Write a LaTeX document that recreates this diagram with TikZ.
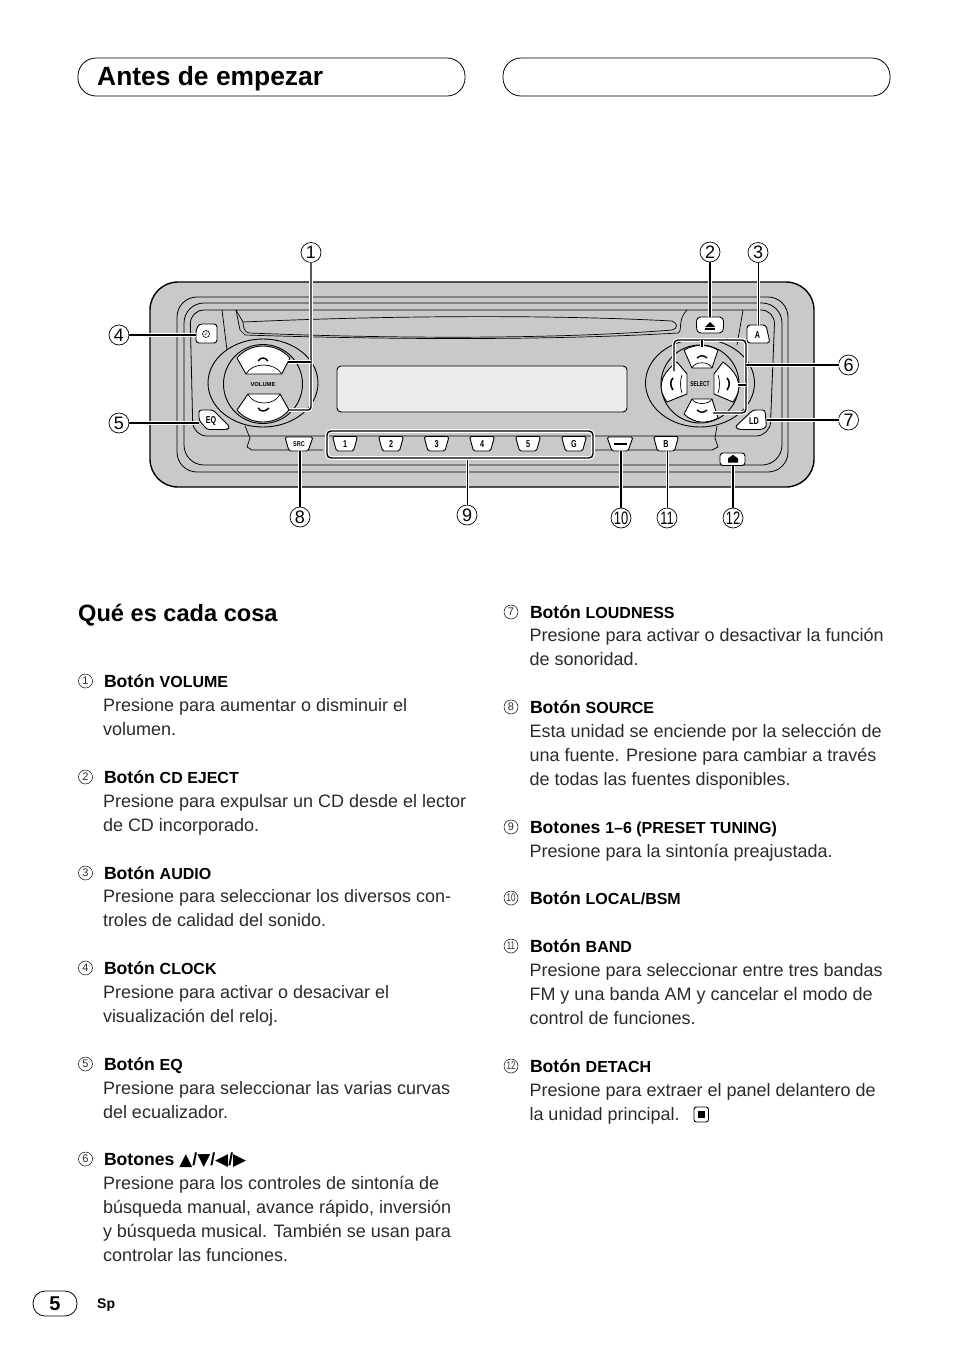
\documentclass[tikz,border=0pt]{standalone}
\usepackage{fontspec}
\setmainfont{Liberation Sans}
\newfontfamily\dejavu{DejaVu Sans}
\newcommand{\fsz}[1]{\fontsize{#1}{#1}\selectfont}
\newcounter{tn}
\definecolor{panelgray}{HTML}{C9C9C9}
\definecolor{dispgray}{HTML}{ECECEC}
\definecolor{bodyink}{HTML}{2A2A2A}
\tikzset{
 txt/.style={anchor=base west,inner sep=0pt,outer sep=0pt,text=bodyink,font=\fsz{18}},
 hd/.style={anchor=base west,inner sep=0pt,outer sep=0pt,text=black,font=\fsz{17.6}\bfseries},
 bignum/.style={circle,draw,line width=.7pt,minimum size=20pt,inner sep=0pt,outer sep=0pt,font=\fsz{18}},
 smallnum/.style={circle,draw,line width=.5pt,minimum size=14pt,inner sep=0pt,outer sep=0pt,font=\fsz{11},text=bodyink},
 leader/.style={black,line width=1.4pt,preaction={draw=white,line width=3.6pt}},
 thinleader/.style={black,line width=1pt,preaction={draw=white,line width=3pt}},
 ring/.style={line width=.8pt,rounded corners=20pt},
 fine/.style={line width=.7pt},
 btn/.style={fill=white,draw=black,line width=.9pt,rounded corners=1.6pt},
 pad/.style={fill=white,draw=black,line width=.9pt,line join=round},
 lbl/.style={inner sep=0pt,outer sep=0pt,font=\fsz{10}\bfseries},
 tiny/.style={inner sep=0pt,outer sep=0pt,font=\fsz{5.8}\bfseries},
 pill/.style={draw,line width=.8pt},
}
\newcommand{\tl}[3]{\stepcounter{tn}\node[txt] (t\arabic{tn}) at (#1,#2) {#3};}
\newcommand{\hl}[4]{\stepcounter{tn}\node[hd] (t\arabic{tn}) at (#1,#2) {#3 {\fsz{16}#4}};}
\newcommand{\nm}[3]{\stepcounter{tn}\node[smallnum] (t\arabic{tn}) at (#1,#2) {#3};}
\newcommand{\narrow}[1]{\scalebox{.72}[1]{#1}}
\newcommand{\presetbtn}[3]{% name, x, label
 \draw[btn] (#2-12.5,436.5) -- (#2+12.5,436.5) -- (#2+8.5,451) -- (#2-8.5,451) -- cycle;
 \node[lbl] (#1) at (#2,444) {\narrow{#3}};}
\begin{document}
\begin{tikzpicture}[x=1pt,y=-1pt]
\useasboundingbox (0,0) rectangle (954,1355);
% header pills
\draw[pill,rounded corners=18pt] (78,58) rectangle (465,96);
\draw[pill,rounded corners=18pt] (503,58) rectangle (890,96);
\node[anchor=base west,inner sep=0pt,font=\fsz{26.4}\bfseries] (title) at (97,85) {Antes de empezar};
% panel
\draw[fill=panelgray,line width=1.4pt,rounded corners=28pt] (150,282) rectangle (814,487);
% rings
\draw[ring] (177,297) rectangle (788,472);
\draw[ring] (184,303) rectangle (782,465);
\draw[ring,rounded corners=14pt] (190,310) -- (193,436) -- (770,436) -- (775,310) -- cycle;
% slot
\draw[fine] (222,310) -- (227,350);
\draw[fine,fill=panelgray] (236,310) -- (243,322) .. controls (400,315) and (560,315) .. (672,321) .. controls (678,323) and (678,329) .. (672,330) .. controls (560,339) and (400,339) .. (249,333) .. controls (244,333) and (243,325) .. (243,322);
\draw[fine] (236,310) -- (240,330) -- (245,335) .. controls (400,340) and (560,340) .. (678,333) .. controls (683,331) and (677,320) .. (687,310);
\draw[fine] (743,310) -- (737,345);
% lower band
\draw[fine] (245,426) -- (250,438) -- (247,447) -- (252,450) -- (323,450);
\draw[fine] (593,450) -- (712,450) -- (718,447) -- (715,438) -- (717,426);
% display
\draw[fill=dispgray,line width=.9pt,rounded corners=4pt] (337,366) rectangle (627,412);
% left knob
\draw[fill=panelgray,line width=.9pt] (263,383) ellipse [x radius=55,y radius=44];
\draw[fill=panelgray,line width=.9pt] (263,384) circle [radius=39.5];
\draw[pad] (237,358) .. controls (250,342) and (276,342) .. (290,358) -- (281.7,374) -- (246,374) -- cycle;
\draw[fine] (246,374) .. controls (252,362) and (275,362) .. (281.7,374);
\draw[line width=1.4pt] (258,361) .. controls (261,357) and (265,357) .. (268,361);
\draw[pad] (248,394) -- (280,394) -- (289,410) .. controls (276,426) and (250,426) .. (237,410) -- cycle;
\draw[fine] (248,394) .. controls (253,406) and (275,406) .. (280,394);
\draw[line width=1.4pt] (258,408) .. controls (261,412) and (265,412) .. (269,408);
\node[tiny] (vol) at (263,384.5) {VOLUME};
% right knob
\draw[fill=panelgray,line width=.9pt] (700,383) ellipse [x radius=54.5,y radius=44];
\draw[fill=panelgray,line width=.9pt] (700,384) circle [radius=39];
\draw[pad] (684,350) .. controls (694,344) and (708,344) .. (718,350) -- (712,368) -- (692,368) -- cycle;
\draw[fine] (692,368) .. controls (695,361) and (709,361) .. (712,368);
\draw[line width=1.4pt] (697,358) .. controls (700,355) and (704,355) .. (707,358);
\draw[pad] (692,399) -- (712,399) -- (718,418) .. controls (708,424) and (694,424) .. (684,414) -- cycle;
\draw[fine] (692,399) .. controls (695,405) and (709,405) .. (712,399);
\draw[line width=1.4pt] (697,410) .. controls (700,413) and (704,413) .. (707,410);
\draw[pad] (677,362) -- (687,374) -- (687,394) -- (667,402) .. controls (658,390) and (658,376) .. (677,362) -- cycle;
\draw[fine] (682,375) .. controls (680,380) and (680,388) .. (682,393);
\draw[line width=1.6pt] (673,378) .. controls (670,381) and (670,386) .. (673,390);
\draw[pad] (723,362) -- (714,374) -- (714,394) -- (733,402) .. controls (742,390) and (742,376) .. (723,362) -- cycle;
\draw[fine] (718,375) .. controls (720,380) and (720,388) .. (718,393);
\draw[line width=1.6pt] (727,378) .. controls (730,381) and (730,386) .. (727,390);
\node[tiny] (sel) at (700,384.5) {\scalebox{.85}[1.2]{SELECT}};
% side buttons
\draw[btn,rounded corners=3pt] (199,324) -- (217,324) -- (217,343) -- (196,343) -- (196,330) -- cycle;
\node[circle,draw,line width=.6pt,minimum size=7pt,inner sep=0pt] (clock) at (206,334) {};
\draw[line width=.5pt] (clock.center) -- (206,331.5) (clock.center) -- (204.5,335);
\draw[btn,rounded corners=2.5pt] (199,410) -- (213,410) -- (230,427) -- (227,429.5) -- (207,429.5) -- (199,420) -- cycle;
\node[lbl] (eq) at (211,421) {\narrow{EQ}};
\draw[btn] (696.5,324) .. controls (696.5,319) and (698,317) .. (702,317) -- (718,317) .. controls (722,317) and (723.5,319) .. (723.5,324) .. controls (723.5,331) and (722,333) .. (718,333) -- (702,333) .. controls (698,333) and (696.5,331) .. (696.5,324) -- cycle;
\fill (705,327) -- (715,327) -- (710,322) -- cycle;
\fill (705,328.2) rectangle (715,329.6);
\node[inner sep=0pt,outer sep=0pt] (ejectbtn) at (710,325) {};
\draw[btn,rounded corners=3pt] (747,325) -- (766,325) -- (770,343) -- (747,343) -- cycle;
\node[lbl] (abtn) at (757.5,335) {\narrow{A}};
\draw[btn,rounded corners=2.5pt] (753,410) -- (765,410) -- (766.5,427) -- (762,429.5) -- (739,429.5) -- (735,427) -- cycle;
\node[lbl] (ld) at (754,421) {\narrow{LD}};
% bottom buttons
\draw[btn] (285,437) -- (313,437) -- (308,451) -- (289,451) -- cycle;
\node[tiny] (src) at (299,444.5) {\scalebox{.95}[1.2]{SRC}};
\presetbtn{b1}{345}{1}
\presetbtn{b2}{391}{2}
\presetbtn{b3}{436.5}{3}
\presetbtn{b4}{482}{4}
\presetbtn{b5}{528}{5}
\presetbtn{b6}{574}{G}
\draw[btn] (607,437) -- (633,437) -- (628,451) -- (612,451) -- cycle;
\fill (613.5,442.5) rectangle (627,445);
\node[inner sep=0pt,outer sep=0pt] (localbtn) at (620,444) {};
\presetbtn{bandbtn}{666}{B}
\draw[btn,rounded corners=3pt] (720,453) rectangle (745,465.5);
\fill (728,462.5) -- (728,458.5) -- (733,454.8) -- (738,458.5) -- (738,462.5) -- cycle;
\node[inner sep=0pt,outer sep=0pt] (detach) at (733,459) {};
% callout numbers
\node[bignum] (n1) at (311,252.5) {1};
\node[bignum] (n2) at (710,252) {2};
\node[bignum] (n3) at (758,252.5) {3};
\node[bignum] (n4) at (119,335) {4};
\node[bignum] (n5) at (119,423) {5};
\node[bignum] (n6) at (848.5,365) {6};
\node[bignum] (n7) at (848.5,420) {7};
\node[bignum] (n8) at (300,517) {8};
\node[bignum] (n9) at (467,515) {9};
\node[bignum] (n10) at (621,518) {\narrow{10}};
\node[bignum] (n11) at (667,518) {\narrow{11}};
\node[bignum] (n12) at (733,518) {\narrow{12}};
% connector ends
\coordinate (vup) at (288,362);
\coordinate (vdn) at (289,410);
\coordinate (clkc) at (196,335);
\coordinate (eqc) at (199,423);
\coordinate (ejc) at (710,317);
\coordinate (ac) at (758,325);
\coordinate (ldc) at (767,420);
\coordinate (srcc) at (300,451);
\coordinate (grpc) at (467,458);
\coordinate (locc) at (621,451);
\coordinate (bandc) at (667,451);
\coordinate (detc) at (733,465.5);
\coordinate (sl) at (674,371);
\coordinate (stl) at (674,340);
\coordinate (str) at (746,340);
\coordinate (sb) at (746,413);
\coordinate (sd) at (713,413);
\coordinate (stu) at (702,347);
\coordinate (srt) at (738,385);
% connectors
\draw[leader,rounded corners=3pt] (n1.south) |- (vdn);
\draw[leader] (vup) -- (vup -| n1.south);
\draw[leader] (n2.south) -- (ejc);
\draw[thinleader] (n3.south) -- (ac);
\draw[leader] (n4.east) -- (clkc);
\draw[leader] (n5.east) -- (eqc);
\draw[leader,rounded corners=4pt] (sl) -- (stl) -- (str) -- (sb) -- (sd);
\draw[leader] (stu) -- (stu |- stl);
\draw[leader] (srt) -- (srt -| sb);
\draw[leader] (sb |- n6) -- (n6.west);
\draw[leader] (ldc) -- (n7.west);
\draw[leader] (srcc) -- (n8.north);
\draw[thinleader] (grpc) -- (n9.north);
\draw[leader] (locc) -- (n10.north);
\draw[thinleader] (bandc) -- (n11.north);
\draw[leader] (detc) -- (n12.north);
\draw[leader,rounded corners=4pt] (327,431) rectangle (593,458);
% section title
\node[anchor=base west,inner sep=0pt,font=\fsz{23.6}\bfseries] (sect) at (78,621) {Qué es cada cosa};
% left column
\nm{85.5}{681}{1}\hl{104}{687}{Botón}{VOLUME}
\tl{103}{711}{Presione para aumentar o disminuir el}
\tl{103}{735}{volumen.}
\nm{85.5}{777}{2}\hl{104}{783}{Botón}{CD EJECT}
\tl{103}{807}{Presione para expulsar un CD desde el lector}
\tl{103}{831}{de CD incorporado.}
\nm{85.5}{873}{3}\hl{104}{879}{Botón}{AUDIO}
\tl{103}{902}{Presione para seleccionar los diversos con-}
\tl{103}{926}{troles de calidad del sonido.}
\nm{85.5}{968}{4}\hl{104}{974}{Botón}{CLOCK}
\tl{103}{998}{Presione para activar o desacivar el}
\tl{103}{1022}{visualización del reloj.}
\nm{85.5}{1064}{5}\hl{104}{1070}{Botón}{EQ}
\tl{103}{1094}{Presione para seleccionar las varias curvas}
\tl{103}{1118}{del ecualizador.}
\nm{85.5}{1159}{6}
\stepcounter{tn}\node[hd] (t\arabic{tn}) at (104,1165) {Botones {\dejavu\fsz{17}▲}/{\dejavu\fsz{17}▼}/{\dejavu\fsz{17}◀}/{\dejavu\fsz{17}▶}};
\tl{103}{1189}{Presione para los controles de sintonía de}
\tl{103}{1213}{búsqueda manual, avance rápido, inversión}
\tl{103}{1237}{y búsqueda musical. También se usan para}
\tl{103}{1261}{controlar las funciones.}
% right column
\nm{511}{612}{7}\hl{530}{618}{Botón}{LOUDNESS}
\tl{529.5}{641}{Presione para activar o desactivar la función}
\tl{529.5}{665}{de sonoridad.}
\nm{511}{707}{8}\hl{530}{713}{Botón}{SOURCE}
\tl{529.5}{737}{Esta unidad se enciende por la selección de}
\tl{529.5}{761}{una fuente. Presione para cambiar a través}
\tl{529.5}{785}{de todas las fuentes disponibles.}
\nm{511}{827}{9}\hl{530}{833}{Botones}{1–6 (PRESET TUNING)}
\tl{529.5}{857}{Presione para la sintonía preajustada.}
\nm{511}{898}{\narrow{10}}\hl{530}{904}{Botón}{LOCAL/BSM}
\nm{511}{946}{\narrow{11}}\hl{530}{952}{Botón}{BAND}
\tl{529.5}{976}{Presione para seleccionar entre tres bandas}
\tl{529.5}{1000}{FM y una banda AM y cancelar el modo de}
\tl{529.5}{1024}{control de funciones.}
\nm{511}{1066}{\narrow{12}}\hl{530}{1072}{Botón}{DETACH}
\tl{529.5}{1096}{Presione para extraer el panel delantero de}
\tl{529.5}{1120}{la unidad principal.}
% end mark
\draw[line width=.9pt,rounded corners=2.5pt] (694,1107) rectangle (708.5,1122);
\fill (698,1111) rectangle (704.5,1118);
% page number
\draw[pill,rounded corners=12pt] (33,1291) rectangle (77,1316);
\node[inner sep=0pt,font=\fsz{20}\bfseries] (pg) at (55,1303.5) {5};
\node[anchor=base west,inner sep=0pt,font=\fsz{14}\bfseries] (sp) at (97,1308) {Sp};
\end{tikzpicture}
\end{document}
